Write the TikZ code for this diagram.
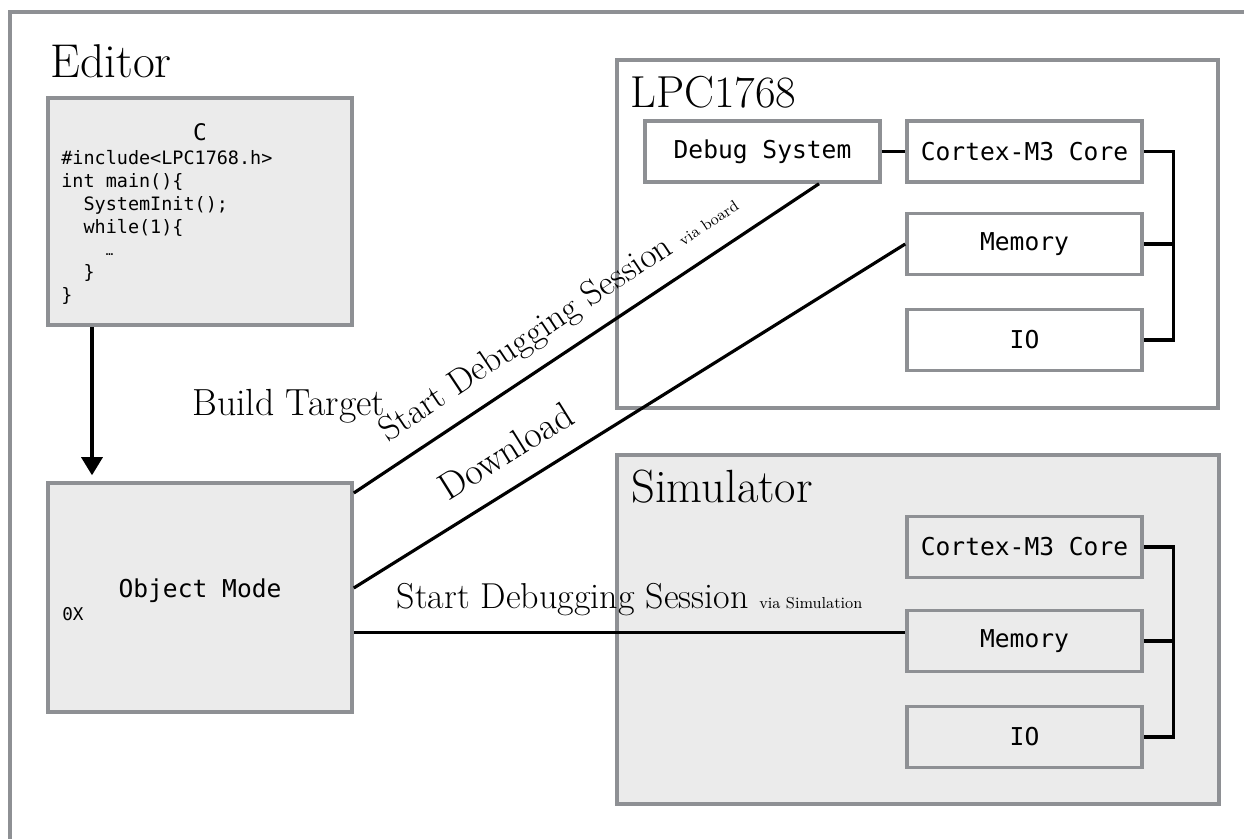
\documentclass[tikz,border=0pt]{standalone}
\usepackage{fontspec}
\setmonofont{DejaVu Sans Mono}
\usetikzlibrary{arrows.meta}
\definecolor{boxgray}{HTML}{8E9094}
\definecolor{boxfill}{HTML}{EBEBEB}
\newcommand\vianote[1]{{\fontsize{9}{10}\selectfont #1}}

\begin{document}
\begin{tikzpicture}[x=0.2mm,y=-0.2mm,
		frame/.style={draw=boxgray,line width=2pt},
		unit/.style={frame,minimum width=47mm,minimum height=12.2mm,inner sep=0pt,font=\ttfamily\fontsize{14}{16}\selectfont},
		title/.style={anchor=base west,inner sep=0pt},
		link/.style={line width=1.8pt},
		lbl/.style={inner sep=0pt,text depth=0pt,font=\fontsize{20}{22}\selectfont}]
		%%%%% START %%%%%
		\useasboundingbox (0,0) rectangle (1244,838);
		\clip (0,0) rectangle (1244,838);
		\draw[frame] (10,12) rectangle (1300,900);
		
		% editor side
		\node[title,font=\fontsize{27}{30}\selectfont] (edtitle) at (50,77) {Editor};
		\node[frame,fill=boxfill,minimum width=60.8mm,minimum height=45.4mm] (editor) at (200,211.5) {};
		\node[anchor=base,inner sep=0pt,font=\ttfamily\fontsize{13}{15}\selectfont] (lang) at (200,140) {C};
		\node[anchor=north west,inner sep=0pt,align=left,font=\ttfamily\fontsize{10.5}{13}\selectfont] (code) at (61,150)
			{\#include<LPC1768.h>\\int main()\{\\\phantom{xx}SystemInit();\\\phantom{xx}while(1)\{\\\phantom{xxxx}{\fontsize{7}{7}\selectfont …}\\\phantom{xx}\}\\\}};
		
		\node[frame,fill=boxfill,minimum width=60.8mm,minimum height=45.8mm] (obj) at (200,597.5) {};
		\node[anchor=base,inner sep=0pt,font=\ttfamily\fontsize{14}{16}\selectfont] (objlbl) at (200,597) {Object Mode};
		\node[anchor=base west,inner sep=0pt,font=\ttfamily\fontsize{10}{12}\selectfont] (hex) at (62,620) {0X};
		\node[lbl,anchor=base west,font=\fontsize{21.5}{24}\selectfont] (build) at (192,415) {Build Target};
		
		\draw[link,-{Triangle[length=3.6mm,width=4.2mm]},shorten >=1.2mm] ([xshift=-21.6mm]editor.south) -- ([xshift=-21.6mm]obj.north);
		
		% board
		\node[frame,fill=white,minimum width=120.2mm,minimum height=69.6mm] (board) at (917.5,234) {};
		\node[title,font=\fontsize{25.5}{28}\selectfont] (boardtitle) at (630,107) {LPC1768};
		\node[unit,fill=white] (debug) at (762.5,151.5) {Debug System};
		\node[unit,fill=white] (core) at (1024.5,151.5) {Cortex-M3 Core};
		\node[unit,fill=white] (mem) at (1024.5,244) {Memory};
		\node[unit,fill=white] (io) at (1024.5,340) {IO};
		\draw[link] (debug) -- (core);
		\draw[link] (core.east) -- ++(30,0) |- (io.east);
		\draw[link] (mem.east) -- ++(30,0);
		
		% simulator
		\node[frame,fill=boxfill,minimum width=120.4mm,minimum height=69.8mm] (sim) at (918,629.5) {};
		\node[title,font=\fontsize{26.5}{29}\selectfont] (simtitle) at (631,502) {Simulator};
		\node[unit,fill=boxfill] (simcore) at (1024.5,547) {Cortex-M3 Core};
		\node[unit,fill=boxfill] (simmem) at (1024.5,641) {Memory};
		\node[unit,fill=boxfill] (simio) at (1024.5,737) {IO};
		\draw[link] (simcore.east) -- ++(30,0) |- (simio.east);
		\draw[link] (simmem.east) -- ++(30,0);
		
		% sessions
		\draw[link] ([yshift=20.9mm]obj.east) -- node[lbl,sloped,above=4.3mm,pos=0.48] {Start Debugging Session \vianote{via board}} ([xshift=11.3mm]debug.south);
		\draw[link] ([yshift=1.9mm]obj.east) -- node[lbl,sloped,above=4.3mm,pos=0.31,font=\fontsize{21.5}{24}\selectfont] {Download} (mem.west);
		\coordinate (simport) at ([yshift=-7mm]obj.east);
		\draw[link] (simport) -- node[lbl,above=4.5mm,pos=0.5,font=\fontsize{20.5}{23}\selectfont] {Start Debugging Session \vianote{via Simulation}} (simport -| simmem.west);
		%%%%% END %%%%%
	\end{tikzpicture}
\end{document}
